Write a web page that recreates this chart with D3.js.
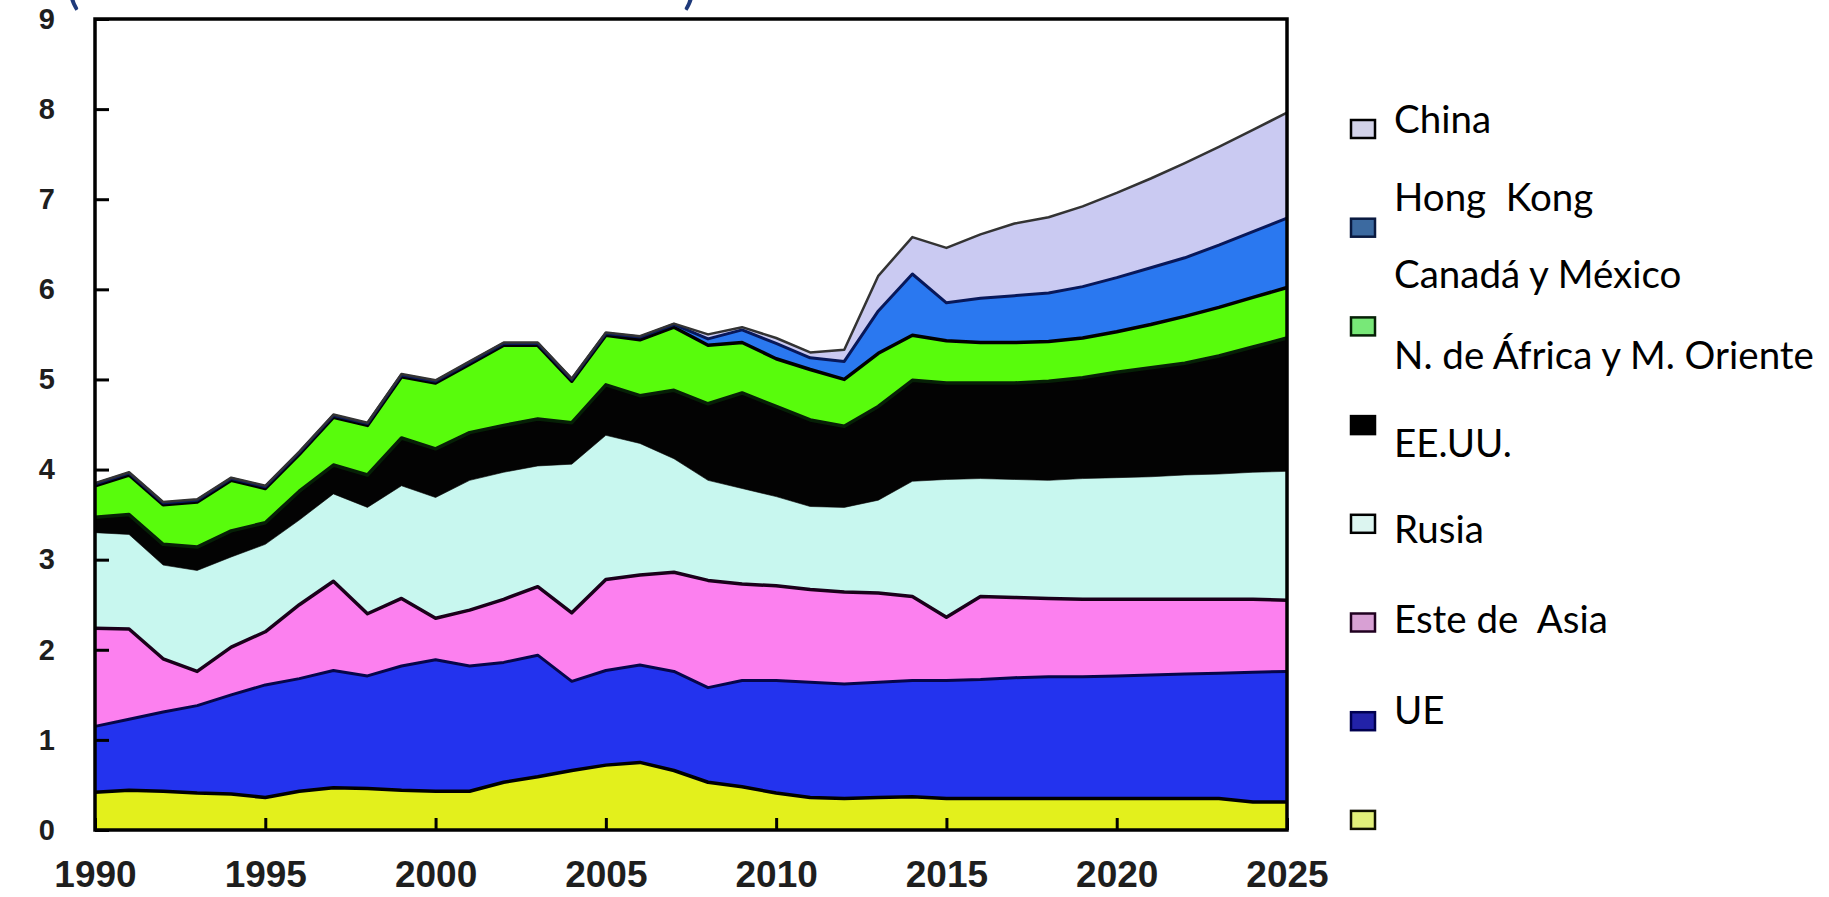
<!DOCTYPE html>
<html>
<head>
<meta charset="utf-8">
<script src="https://cdn.jsdelivr.net/npm/d3@7"></script>
<style>
  html, body { margin: 0; padding: 0; background: #ffffff; overflow: hidden; }
</style>
</head>
<body>
<svg id="chart" width="1829" height="897"></svg>
<script>
// ---------------- DATA ----------------
const years = [1990,1991,1992,1993,1994,1995,1996,1997,1998,1999,
               2000,2001,2002,2003,2004,2005,2006,2007,2008,2009,
               2010,2011,2012,2013,2014,2015,2016,2017,2018,2019,
               2020,2021,2022,2023,2024,2025];

// bottom (yellow, unlabeled) layer
const otros    = [0.42,0.44,0.43,0.41,0.40,0.36,0.43,0.47,0.46,0.44,
                  0.43,0.43,0.53,0.59,0.66,0.72,0.75,0.66,0.53,0.48,
                  0.41,0.36,0.35,0.36,0.37,0.35,0.35,0.35,0.35,0.35,
                  0.35,0.35,0.35,0.35,0.31,0.31];
const ue       = [0.73,0.79,0.88,0.97,1.10,1.25,1.25,1.30,1.25,1.38,
                  1.46,1.39,1.33,1.35,0.99,1.05,1.08,1.10,1.05,1.18,
                  1.25,1.28,1.27,1.28,1.29,1.31,1.32,1.34,1.35,1.35,
                  1.36,1.37,1.38,1.39,1.44,1.45];
const esteAsia = [1.09,1.00,0.59,0.38,0.53,0.59,0.82,0.99,0.69,0.75,
                  0.46,0.62,0.70,0.76,0.76,1.01,1.00,1.10,1.19,1.07,
                  1.05,1.03,1.02,0.99,0.93,0.70,0.92,0.89,0.87,0.86,
                  0.85,0.84,0.83,0.82,0.81,0.79];
const rusia    = [1.06,1.05,1.04,1.12,1.00,0.97,0.94,0.97,1.18,1.25,
                  1.34,1.44,1.41,1.34,1.65,1.60,1.46,1.26,1.11,1.06,
                  0.99,0.92,0.94,1.03,1.28,1.53,1.31,1.31,1.31,1.34,
                  1.35,1.36,1.38,1.39,1.41,1.43];
const eeuu     = [0.17,0.22,0.23,0.26,0.29,0.24,0.32,0.32,0.36,0.53,
                  0.54,0.53,0.52,0.52,0.46,0.56,0.53,0.76,0.85,1.06,
                  1.00,0.96,0.90,1.04,1.12,1.07,1.06,1.07,1.10,1.12,
                  1.17,1.21,1.24,1.31,1.39,1.48];
const nAfrica  = [0.35,0.44,0.44,0.50,0.56,0.38,0.41,0.53,0.55,0.68,
                  0.73,0.76,0.89,0.82,0.46,0.55,0.62,0.70,0.65,0.56,
                  0.53,0.56,0.52,0.59,0.50,0.47,0.45,0.45,0.44,0.44,
                  0.45,0.48,0.52,0.54,0.55,0.56];
const hongKong = [0.02,0.02,0.02,0.02,0.02,0.02,0.02,0.02,0.02,0.02,
                  0.02,0.02,0.02,0.02,0.02,0.02,0.03,0.03,0.07,0.14,
                  0.17,0.13,0.20,0.47,0.68,0.42,0.49,0.52,0.54,0.57,
                  0.60,0.63,0.65,0.69,0.73,0.77];
const china    = [0.01,0.01,0.01,0.01,0.01,0.01,0.01,0.01,0.01,0.01,
                  0.01,0.01,0.01,0.01,0.01,0.01,0.01,0.01,0.05,0.03,
                  0.06,0.06,0.13,0.39,0.41,0.61,0.71,0.80,0.84,0.89,
                  0.94,0.99,1.05,1.09,1.13,1.17];

const yTickValues = [0,1,2,3,4,5,6,7,8,9];
const xTickValues = [1990,1995,2000,2005,2010,2015,2020,2025];

const legendLabels = ["China","Hong  Kong","Canadá y México","N. de África y M. Oriente",
                      "EE.UU.","Rusia","Este de  Asia","UE"];

// ---------------- STYLE / LAYOUT ----------------
const seriesKeys  = ["otros","ue","esteAsia","rusia","eeuu","nAfrica","hongKong","china"];
const fillColors  = ["#e3f01c","#2333ee","#fc80ef","#c8f7ef","#030303","#58fc0c","#2a78f0","#cacaf2"];
const lineColors  = ["#000000","#06064a","#1a001a","#000000","#062006","#000000","#08185a","#333333"];
const lineWidths  = [3.5,3,3.5,0,3.5,3.5,3,2.5];

// legend swatches, top to bottom
const swatchFills   = ["#d2d2e8","#3c6aa0","#78e878","#000000","#dcf5f0","#d8a0d4","#2222a8","#e2f07a"];
const swatchStrokes = ["#000000","#0a1a40","#062006","#000000","#000000","#200020","#000050","#101000"];
const legendTextBaselines = [133, 211, 287.5, 368.5, 457, 543, 632.5, 723.5];

const W = 1829, H = 897;
const plot = { left: 95, right: 1287, top: 19, bottom: 830 };

const svg = d3.select("#chart");
svg.append("rect").attr("width", W).attr("height", H).attr("fill", "#ffffff");

const table = years.map((yr, i) => ({
  year: yr, otros: otros[i], ue: ue[i], esteAsia: esteAsia[i], rusia: rusia[i],
  eeuu: eeuu[i], nAfrica: nAfrica[i], hongKong: hongKong[i], china: china[i]
}));

const x = d3.scaleLinear().domain([1990, 2025]).range([plot.left, plot.right]);
const y = d3.scaleLinear().domain([0, 9]).range([plot.bottom, plot.top]);

const stacked = d3.stack().keys(seriesKeys)(table);

const area = d3.area()
  .x(d => x(d.data.year))
  .y0(d => y(d[0]))
  .y1(d => y(d[1]))
  .curve(d3.curveLinear);

const topLine = d3.line()
  .x(d => x(d.data.year))
  .y(d => y(d[1]))
  .curve(d3.curveLinear);

const g = svg.append("g");

g.selectAll("path.layer")
  .data(stacked)
  .join("path")
  .attr("class", "layer")
  .attr("d", area)
  .attr("fill", (d, i) => fillColors[i])
  .attr("stroke", (d, i) => fillColors[i])
  .attr("stroke-width", 0.6);

g.selectAll("path.edge")
  .data(stacked)
  .join("path")
  .attr("class", "edge")
  .attr("d", topLine)
  .attr("fill", "none")
  .attr("stroke", (d, i) => lineColors[i])
  .attr("stroke-width", (d, i) => lineWidths[i])
  .attr("stroke-linejoin", "round");

// frame
svg.append("rect")
  .attr("x", plot.left).attr("y", plot.top)
  .attr("width", plot.right - plot.left).attr("height", plot.bottom - plot.top)
  .attr("fill", "none").attr("stroke", "#000").attr("stroke-width", 3.5);

// axes
const yAxis = d3.axisLeft(y).tickValues(yTickValues).tickFormat(d3.format("d"))
  .tickSizeInner(-14).tickSizeOuter(0).tickPadding(40);
const gy = svg.append("g").attr("transform", `translate(${plot.left},0)`).call(yAxis);
gy.select(".domain").remove();
gy.selectAll(".tick line").attr("stroke", "#000").attr("stroke-width", 3);
gy.selectAll(".tick text")
  .attr("font-family", "'Liberation Sans', Arial, sans-serif")
  .attr("font-weight", "bold")
  .attr("font-size", 29)
  .attr("fill", "#1e1e1e");

const xAxis = d3.axisBottom(x).tickValues(xTickValues).tickFormat(d3.format("d"))
  .tickSizeInner(-12).tickSizeOuter(0).tickPadding(31);
const gx = svg.append("g").attr("transform", `translate(0,${plot.bottom})`).call(xAxis);
gx.select(".domain").remove();
gx.selectAll(".tick line").attr("stroke", "#000").attr("stroke-width", 3);
gx.selectAll(".tick text")
  .attr("font-family", "'Liberation Sans', Arial, sans-serif")
  .attr("font-weight", "bold")
  .attr("font-size", 37)
  .attr("fill", "#1e1e1e");

// legend swatches (top to bottom)
const swatchY0 = 129, swatchStep = 98.7;
svg.append("g").selectAll("rect")
  .data(swatchFills)
  .join("rect")
  .attr("x", 1351)
  .attr("y", (d, i) => swatchY0 + i * swatchStep - 9)
  .attr("width", 24).attr("height", 18)
  .attr("fill", d => d)
  .attr("stroke", (d, i) => swatchStrokes[i])
  .attr("stroke-width", 2.5);

// legend texts
const legendG = svg.append("g");
const texts = legendG.selectAll("text")
  .data(legendLabels)
  .join("text")
  .attr("x", 1394)
  .attr("y", (d, i) => legendTextBaselines[i])
  .attr("font-family", "Lato, 'Open Sans', sans-serif")
  .attr("font-size", 36)
  .attr("fill", "#000")
  .style("white-space", "pre")
  .text(d => d);
// fit the longest label to its width in the reference
const longest = texts.filter((d, i) => i === 3).node();
const w = longest.getComputedTextLength();
const fs = 36 * 420 / w;
texts.attr("font-size", fs);

// cut-off title parentheses at the very top (cut off in the reference as well)
svg.append("text").attr("x", 66).attr("y", 3)
  .attr("font-family", "Lato, sans-serif").attr("font-size", 52)
  .attr("fill", "#1f3a7a").text("(");
svg.append("text").attr("x", 683).attr("y", 3)
  .attr("font-family", "Lato, sans-serif").attr("font-size", 52)
  .attr("fill", "#1f3a7a").text(")");
</script>
</body>
</html>
